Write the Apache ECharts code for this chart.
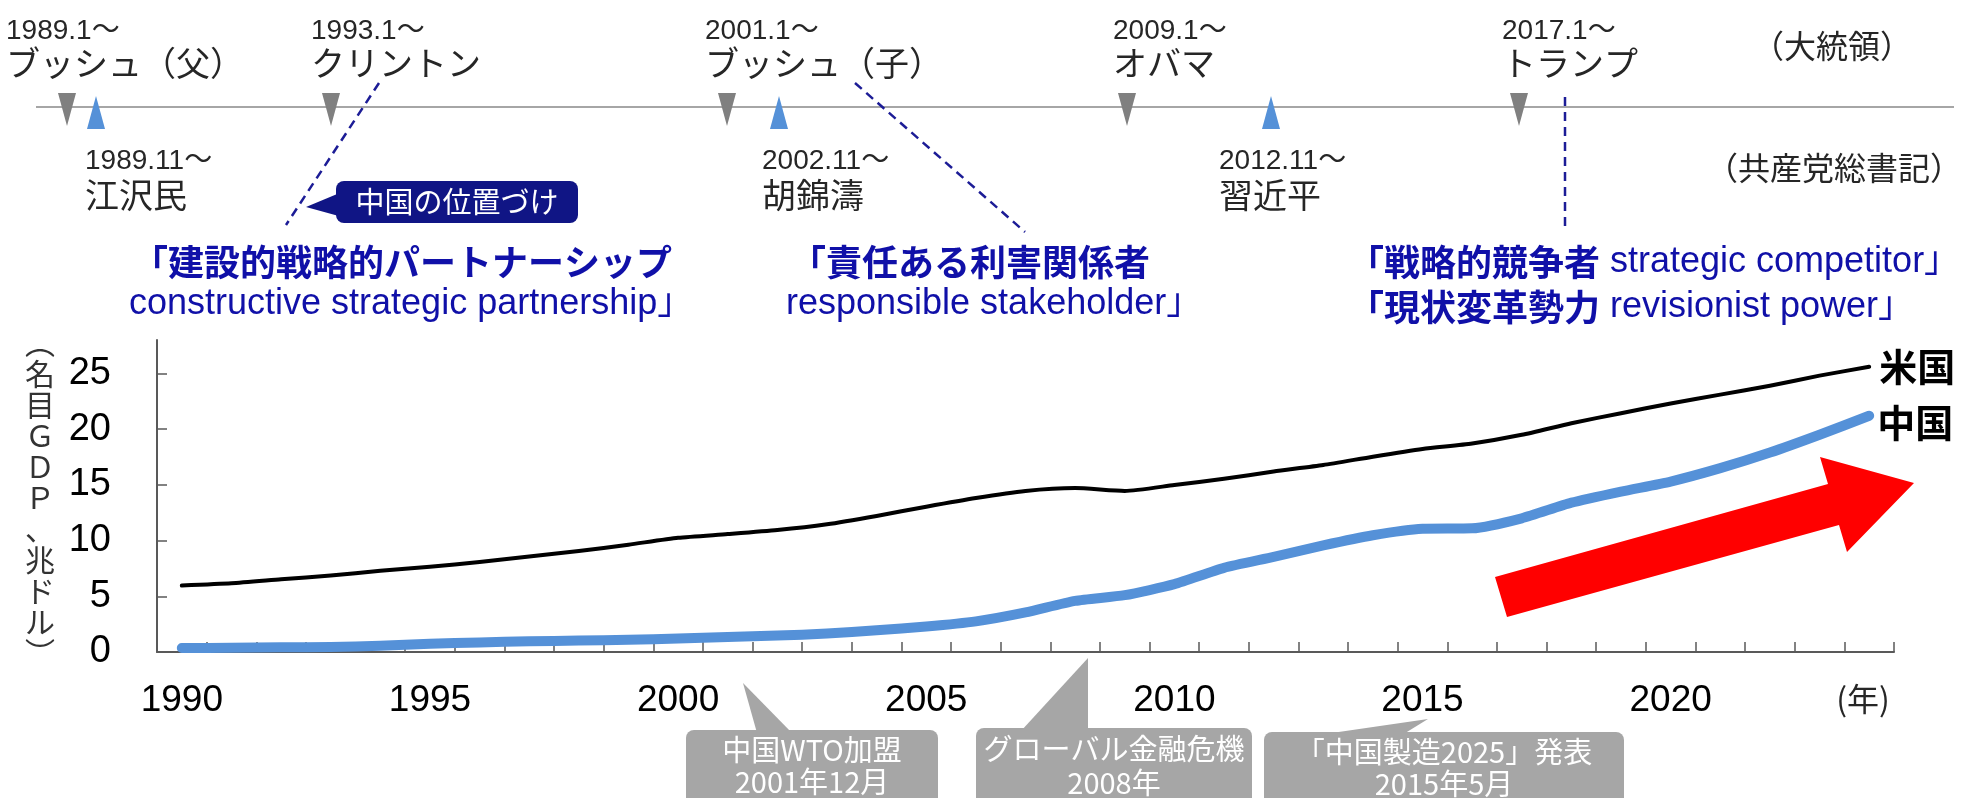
<!DOCTYPE html>
<html><head><meta charset="utf-8">
<script src="https://cdn.jsdelivr.net/npm/echarts@6/dist/echarts.min.js"></script>
<style>html,body{margin:0;padding:0;background:#fff;}#c{width:1966px;height:798px;}</style>
</head><body><div id="c"></div>
<script>
// ---- data ----
const years = ['1990','1991','1992','1993','1994','1995','1996','1997','1998','1999',
  '2000','2001','2002','2003','2004','2005','2006','2007','2008','2009',
  '2010','2011','2012','2013','2014','2015','2016','2017','2018','2019',
  '2020','2021','2022','2023','2024'];
const usGDP = [5.96,6.16,6.52,6.86,7.29,7.64,8.07,8.58,9.06,9.63,
  10.25,10.58,10.94,11.46,12.21,13.04,13.82,14.45,14.71,14.45,
  14.99,15.54,16.20,16.78,17.53,18.22,18.71,19.49,20.53,21.43,
  22.3,23.1,23.9,24.8,25.6];
const chinaGDP = [0.36,0.38,0.43,0.44,0.56,0.73,0.86,0.96,1.03,1.09,
  1.21,1.34,1.47,1.66,1.96,2.29,2.75,3.55,4.59,5.10,
  6.09,7.55,8.53,9.57,10.48,11.06,11.10,12.0,13.4,14.4,
  15.3,16.5,17.9,19.5,21.2];
const seriesNames = ['米国','中国'];
const yAxisTitle = ['︵','名','目','Ｇ','Ｄ','Ｐ','、','兆','ド','ル','︶'];
const xAxisUnit = '(年)';
const presidentDates = ['1989.1～','1993.1～','2001.1～','2009.1～','2017.1～'];
const presidentNames = ['ブッシュ（父）','クリントン','ブッシュ（子）','オバマ','トランプ'];
const leaderDates = ['1989.11～','2002.11～','2012.11～'];
const leaderNames = ['江沢民','胡錦濤','習近平'];
const presidentTitle = '（大統領）';
const leaderTitle = '（共産党総書記）';
const positionTag = '中国の位置づけ';
const stances = [
  ['「建設的戦略的パートナーシップ', 'constructive strategic partnership」'],
  ['「責任ある利害関係者', 'responsible stakeholder」'],
  ['「戦略的競争者', 'strategic competitor」'],
  ['「現状変革勢力', 'revisionist power」']
];
const events = [
  '中国WTO加盟\n2001年12月',
  'グローバル金融危機\n2008年',
  '「中国製造2025」発表\n2015年5月'
];

// ---- layout (pixels) ----
const LAT = '"Liberation Sans", "Noto Sans CJK JP", sans-serif';
const JP = '"Noto Sans CJK JP", "Liberation Sans", sans-serif';
const TXT = '#262626';
const BLUE_T = '#1010a8';
const DASH = '#1c1c96';
const presX = [6, 311, 705, 1113, 1502];
const presTriX = [67, 331, 727, 1127, 1519];
const leadX = [85, 762, 1219];
const leadTriX = [96, 779, 1271];

const g = [];
g.push({type:'line', silent:true, shape:{x1:36,y1:107,x2:1954,y2:107}, style:{stroke:'#a6a6a6', lineWidth:2}});
presX.forEach((x,i)=>{
  g.push({type:'text', x:x, y:31, style:{text:presidentDates[i], font:'28px '+LAT, fill:TXT, align:'left', verticalAlign:'middle'}});
  g.push({type:'text', x:x, y:63, style:{text:presidentNames[i], font:'34px '+JP, fill:TXT, align:'left', verticalAlign:'middle'}});
});
presTriX.forEach(cx=>{
  g.push({type:'polygon', shape:{points:[[cx-9,93],[cx+9,93],[cx,126]]}, style:{fill:'#808080'}});
});
leadTriX.forEach(cx=>{
  g.push({type:'polygon', shape:{points:[[cx,96],[cx+9,129],[cx-9,129]]}, style:{fill:'#5591d8'}});
});
leadX.forEach((x,i)=>{
  g.push({type:'text', x:x, y:161, style:{text:leaderDates[i], font:'28px '+LAT, fill:TXT, align:'left', verticalAlign:'middle'}});
  g.push({type:'text', x:x, y:195, style:{text:leaderNames[i], font:'34px '+JP, fill:TXT, align:'left', verticalAlign:'middle'}});
});
g.push({type:'text', x:1752, y:46, style:{text:presidentTitle, font:'32px '+JP, fill:TXT, align:'left', verticalAlign:'middle'}});
g.push({type:'text', x:1706, y:168, style:{text:leaderTitle, font:'32px '+JP, fill:TXT, align:'left', verticalAlign:'middle'}});

// dashed connector lines
[[379,83,286,225],[855,83,1025,232],[1565,97,1565,232]].forEach(p=>{
  g.push({type:'line', silent:true, shape:{x1:p[0],y1:p[1],x2:p[2],y2:p[3]}, style:{stroke:DASH, lineWidth:2.5, lineDash:[9,6]}});
});

// navy tag
g.push({type:'polygon', shape:{points:[[306,207],[342,192],[346,218]]}, style:{fill:'#101585'}});
g.push({type:'rect', shape:{x:336,y:181,width:242,height:42,r:8}, style:{fill:'#101585'}});
g.push({type:'text', x:457, y:202, style:{text:positionTag, font:'29px '+JP, fill:'#fff', align:'center', verticalAlign:'middle'}});

// stance texts
const rich = {
  b:{fontSize:36, fontWeight:'bold', fontFamily:JP, fill:BLUE_T},
  r:{fontSize:36, fontFamily:LAT, fill:BLUE_T}
};
g.push({type:'text', x:132, y:262, style:{text:'{b|'+stances[0][0]+'}', rich:rich, align:'left', verticalAlign:'middle'}});
g.push({type:'text', x:129, y:304, style:{text:'{r|'+stances[0][1]+'}', rich:rich, align:'left', verticalAlign:'middle'}});
g.push({type:'text', x:790, y:262, style:{text:'{b|'+stances[1][0]+'}', rich:rich, align:'left', verticalAlign:'middle'}});
g.push({type:'text', x:786, y:304, style:{text:'{r|'+stances[1][1]+'}', rich:rich, align:'left', verticalAlign:'middle'}});
g.push({type:'text', x:1348, y:262, style:{text:'{b|'+stances[2][0]+'}{r| '+stances[2][1]+'}', rich:rich, align:'left', verticalAlign:'middle'}});
g.push({type:'text', x:1348, y:307, style:{text:'{b|'+stances[3][0]+'}{r| '+stances[3][1]+'}', rich:rich, align:'left', verticalAlign:'middle'}});

// y axis title (vertical)
g.push({type:'text', x:40, y:498, style:{text:yAxisTitle.join('\n'), font:'30px '+JP, lineHeight:31, fill:'#333', align:'center', verticalAlign:'middle'}});
// x unit
g.push({type:'text', x:1863, y:699, style:{text:xAxisUnit, font:'32px '+JP, fill:TXT, align:'center', verticalAlign:'middle'}});

// red arrow
g.push({type:'polygon', z:5, shape:{points:[[1495,577],[1828,484],[1820,457],[1914,483],[1847,552],[1839,525],[1507,617]]}, style:{fill:'#ff0000'}});

// event callouts
const GREY = '#a6a6a6';
g.push({type:'polygon', shape:{points:[[743,683],[757,733],[792,733]]}, style:{fill:GREY}});
g.push({type:'rect', shape:{x:686,y:730,width:252,height:80,r:8}, style:{fill:GREY}});
g.push({type:'text', x:812, y:766, style:{text:events[0], font:'29px '+JP, lineHeight:32, fill:'#fff', align:'center', verticalAlign:'middle'}});
g.push({type:'polygon', shape:{points:[[1088,658],[1021,731],[1088,731]]}, style:{fill:GREY}});
g.push({type:'rect', shape:{x:976,y:728,width:276,height:80,r:8}, style:{fill:GREY}});
g.push({type:'text', x:1114, y:766, style:{text:events[1], font:'29px '+JP, lineHeight:34, fill:'#fff', align:'center', verticalAlign:'middle'}});
g.push({type:'polygon', shape:{points:[[1318,735],[1428,719],[1402,735]]}, style:{fill:GREY}});
g.push({type:'rect', shape:{x:1264,y:732,width:360,height:80,r:8}, style:{fill:GREY}});
g.push({type:'text', x:1444, y:768, style:{text:events[2], font:'29px '+JP, lineHeight:32, fill:'#fff', align:'center', verticalAlign:'middle'}});

const axisCol = '#595959';
const chart = echarts.init(document.getElementById('c'), null, {renderer:'canvas'});
chart.setOption({
  animation:false,
  backgroundColor:'#fff',
  grid:{left:157, right:72, top:340, bottom:146},
  xAxis:{
    type:'category', data:years, boundaryGap:true,
    axisLine:{lineStyle:{color:axisCol, width:2}},
    axisTick:{show:true, inside:true, length:10, interval:0, lineStyle:{color:axisCol, width:1.5}},
    axisLabel:{interval:4, fontSize:37, color:'#000', fontFamily:LAT, margin:30},
    splitLine:{show:false}
  },
  yAxis:{
    type:'value', min:0, max:28, interval:5,
    axisLine:{show:true, lineStyle:{color:axisCol, width:2}},
    axisTick:{show:true, inside:true, length:10, lineStyle:{color:axisCol, width:1.5}},
    axisLabel:{fontSize:38, color:'#000', fontFamily:LAT, margin:46},
    splitLine:{show:false}
  },
  series:[
    {name:seriesNames[0], type:'line', data:usGDP, smooth:0.2, showSymbol:false, z:3,
     lineStyle:{color:'#000', width:4, cap:'round', join:'round'},
     endLabel:{show:true, formatter:'{a}', fontSize:38, fontWeight:'bold', color:'#000', fontFamily:JP, distance:10}},
    {name:seriesNames[1], type:'line', data:chinaGDP, smooth:0.2, showSymbol:false, z:2,
     lineStyle:{color:'#5591d8', width:10, cap:'round', join:'round'},
     endLabel:{show:true, formatter:'{a}', fontSize:38, fontWeight:'bold', color:'#000', fontFamily:JP, distance:8, offset:[0,7]}}
  ],
  graphic:g
});
</script></body></html>
